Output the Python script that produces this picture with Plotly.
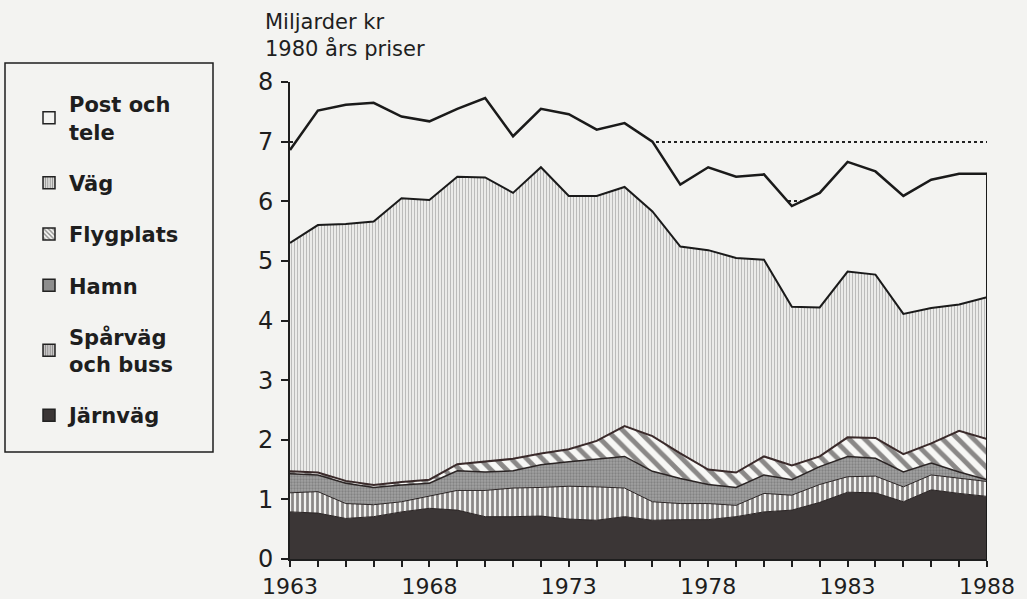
import plotly.graph_objects as go

years = list(range(1963, 1989))

jarnvag = [0.79, 0.77, 0.68, 0.71, 0.79, 0.85, 0.82, 0.71, 0.71, 0.72, 0.67, 0.65, 0.71,
           0.65, 0.66, 0.66, 0.71, 0.79, 0.82, 0.95, 1.12, 1.11, 0.96, 1.16, 1.10, 1.05]
sparvag = [0.32, 0.36, 0.25, 0.20, 0.17, 0.20, 0.33, 0.44, 0.48, 0.48, 0.55, 0.56, 0.48,
           0.31, 0.27, 0.27, 0.19, 0.31, 0.25, 0.30, 0.26, 0.28, 0.25, 0.25, 0.25, 0.25]
hamn = [0.32, 0.28, 0.34, 0.29, 0.28, 0.22, 0.33, 0.31, 0.29, 0.38, 0.41, 0.47, 0.53,
        0.51, 0.42, 0.32, 0.30, 0.31, 0.26, 0.30, 0.34, 0.30, 0.25, 0.20, 0.11, 0.03]
flygplats = [0.04, 0.04, 0.04, 0.04, 0.05, 0.06, 0.11, 0.18, 0.20, 0.19, 0.21, 0.30, 0.51,
             0.59, 0.42, 0.25, 0.25, 0.31, 0.24, 0.17, 0.32, 0.34, 0.30, 0.33, 0.69, 0.68]
vag = [3.83, 4.15, 4.31, 4.42, 4.76, 4.69, 4.82, 4.76, 4.46, 4.80, 4.25, 4.11, 4.01,
       3.77, 3.47, 3.68, 3.60, 3.30, 2.66, 2.50, 2.78, 2.74, 2.35, 2.27, 2.12, 2.38]
post_tele = [1.56, 1.92, 2.00, 1.99, 1.37, 1.32, 1.14, 1.33, 0.95, 0.98, 1.37, 1.11, 1.07,
             1.17, 1.04, 1.39, 1.36, 1.43, 1.69, 1.92, 1.84, 1.73, 1.98, 2.15, 2.19, 2.07]

x_tick_labels = ["1963", "1968", "1973", "1978", "1983", "1988"]
y_ticks = [0, 1, 2, 3, 4, 5, 6, 7, 8]

BG = "#f3f3f1"
FONT = "DejaVu Sans"

series = [
    ("Järnväg", jarnvag, dict(color="#3b3636"), dict(color="#2a2424", width=1)),
    ("Spårväg och buss", sparvag,
     dict(fillpattern=dict(shape="|", fgcolor="#221c1c", bgcolor="#f2f2f0", size=5, solidity=0.55)),
     dict(color="#2a2424", width=1)),
    ("Hamn", hamn,
     dict(fillpattern=dict(shape=".", fgcolor="#626262", bgcolor="#a2a2a2", size=3, solidity=0.45)),
     dict(color="#2a2424", width=1.5)),
    ("Flygplats", flygplats,
     dict(fillpattern=dict(shape="\\", fgcolor="#1e1a1a", bgcolor="#f7f7f5", size=11, solidity=0.45)),
     dict(color="#3a2a2a", width=2)),
    ("Väg", vag,
     dict(fillpattern=dict(shape="|", fgcolor="#8a8a8a", bgcolor="#ebebe9", size=3, solidity=0.33)),
     dict(color="#1a1a1a", width=2)),
    ("Post och tele", post_tele, dict(color=BG), dict(color="#1a1a1a", width=2.5)),
]

fig = go.Figure()
for name, vals, fillopts, lineopts in series:
    kw = dict(x=years, y=vals, mode="lines", stackgroup="one", name=name,
              showlegend=False, line=lineopts, hoverinfo="x+y+name")
    if "color" in fillopts:
        kw["fillcolor"] = fillopts["color"]
    else:
        kw["fillpattern"] = fillopts["fillpattern"]
        kw["fillcolor"] = fillopts["fillpattern"]["bgcolor"]
    fig.add_trace(go.Scatter(**kw))

# right closing edge of the stacked area
total = [sum(v) for v in zip(jarnvag, sparvag, hamn, flygplats, vag, post_tele)]
fig.add_trace(go.Scatter(x=[years[-1], years[-1]], y=[0, total[-1]], mode="lines",
                         line=dict(color="#1a1a1a", width=2), showlegend=False,
                         hoverinfo="skip"))

# legend entries (square swatches) in the reference order
legend_items = [
    ("Post och<br>tele", dict(color=BG, line=dict(color="#222", width=1.5))),
    ("Väg", dict(color="#e0e0de", line=dict(color="#222", width=1.5),
                 pattern=dict(shape="|", fgcolor="#444", bgcolor="#e6e6e4", size=3, solidity=0.45))),
    ("Flygplats", dict(color="#f7f7f5", line=dict(color="#222", width=1.5),
                       pattern=dict(shape="\\", fgcolor="#222", bgcolor="#f7f7f5", size=4, solidity=0.45))),
    ("Hamn", dict(color="#8a8a8a", line=dict(color="#222", width=1.5),
                  pattern=dict(shape=".", fgcolor="#555", bgcolor="#9a9a9a", size=2, solidity=0.4))),
    ("Spårväg<br>och buss", dict(color="#eee", line=dict(color="#222", width=1.5),
                                pattern=dict(shape="|", fgcolor="#2a2424", bgcolor="#eeeeee", size=3, solidity=0.6))),
    ("Järnväg", dict(color="#3b3636", line=dict(color="#222", width=1.5))),
]
for i, (name, marker) in enumerate(legend_items):
    fig.add_trace(go.Bar(x=[None], y=[None], name=name, marker=marker,
                         legendgroup=f"g{i}", showlegend=True))

L, R, T, B = 290, 40, 82, 40
W, H = 1027, 599
pw, ph = W - L - R, H - T - B


def px_x(p):
    return (p - L) / pw


def px_y(p):
    return (H - B - p) / ph


fig.update_layout(
    width=W, height=H,
    margin=dict(l=L, r=R, t=T, b=B, autoexpand=False),
    paper_bgcolor=BG, plot_bgcolor=BG,
    font=dict(family=FONT, color="#1e1e1e", size=21),
    xaxis=dict(range=[years[0], years[-1]], tickmode="array", tickvals=years,
               ticktext=[str(y) if str(y) in x_tick_labels else "" for y in years],
               ticks="outside", ticklen=6, tickwidth=2, tickcolor="#1e1e1e",
               showline=True, linecolor="#1e1e1e", linewidth=2, showgrid=False,
               zeroline=False, tickfont=dict(size=22), ticklabelstandoff=1,
               automargin=False),
    yaxis=dict(range=[0, 8], tickmode="array", tickvals=y_ticks,
               ticks="outside", ticklen=7, tickwidth=2, tickcolor="#1e1e1e",
               showline=True, linecolor="#1e1e1e", linewidth=2,
               showgrid=True, gridcolor="#222", griddash="dot", gridwidth=1.5,
               zeroline=False, tickfont=dict(size=24), ticklabelstandoff=3,
               automargin=False),
    legend=dict(x=px_x(29), y=px_y(84), xanchor="left", yanchor="top",
                bgcolor="rgba(0,0,0,0)", borderwidth=0, traceorder="grouped",
                tracegroupgap=21, font=dict(size=21, family=FONT, weight="bold"),
                itemclick=False),
    barmode="overlay",
    showlegend=True,
)

fig.add_shape(type="rect", xref="paper", yref="paper",
              x0=px_x(5), x1=px_x(213), y0=px_y(452), y1=px_y(63),
              line=dict(color="#1e1e1e", width=1.5), fillcolor="rgba(0,0,0,0)", layer="above")

fig.add_annotation(text="Miljarder kr", xref="paper", yref="paper", x=px_x(263), y=px_y(22),
                   xanchor="left", yanchor="middle", showarrow=False, font=dict(size=21))
fig.add_annotation(text="1980 års priser", xref="paper", yref="paper", x=px_x(263), y=px_y(48),
                   xanchor="left", yanchor="middle", showarrow=False, font=dict(size=21))

fig.write_html("out.html",
               config={"displayModeBar": False},
               post_script="document.body.style.margin='0px';"
                           "document.body.style.overflow='hidden';")
